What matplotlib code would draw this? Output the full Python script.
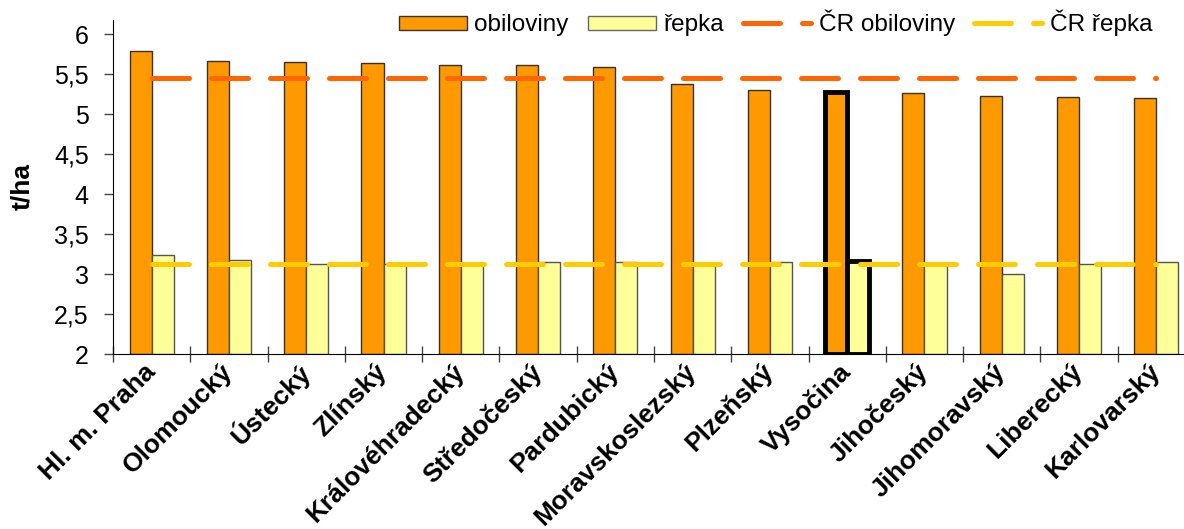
import numpy as np
import matplotlib.pyplot as plt
from matplotlib.lines import Line2D
from matplotlib.patches import Patch

plt.rcParams['font.family'] = ['Liberation Sans', 'DejaVu Sans']

kraje = ['Hl. m. Praha', 'Olomoucký', 'Ústecký', 'Zlínský', 'Královéhradecký',
         'Středočeský', 'Pardubický', 'Moravskoslezský', 'Plzeňský', 'Vysočina',
         'Jihočeský', 'Jihomoravský', 'Liberecký', 'Karlovarský']
obiloviny = [5.79, 5.66, 5.65, 5.64, 5.61, 5.61, 5.59, 5.37, 5.30, 5.28,
             5.26, 5.22, 5.21, 5.20]
repka = [3.24, 3.18, 3.13, 3.12, 3.11, 3.15, 3.15, 3.11, 3.15, 3.16,
         3.12, 3.00, 3.13, 3.15]
cr_obiloviny = 5.45
cr_repka = 3.13
zvyraznit = 'Vysočina'

yticks = [2, 2.5, 3, 3.5, 4, 4.5, 5, 5.5, 6]
ytick_labels = ['2', '2,5', '3', '3,5', '4', '4,5', '5', '5,5', '6']

c_obi = '#FF9900'
c_rep = '#FFFF99'
c_cr_obi = '#FF6600'
c_cr_rep = '#FFCC00'
pomlcky = (7.4, 4.4)

fig = plt.figure(figsize=(11.84, 5.29), dpi=100)
ax = fig.add_axes([113/1184, 1 - 354/529, 1082/1184, 334/529])

x = np.arange(len(kraje))
w = 0.285
hl = kraje.index(zvyraznit)
lw_bar = [3.5 if i == hl else 1.0 for i in x]
ec_obi = ['black' if i == hl else '#333333' for i in x]
ec_rep = ['black' if i == hl else '#555555' for i in x]

ax.bar(x - w/2, np.array(obiloviny) - 2, w, bottom=2, color=c_obi,
       edgecolor=ec_obi, linewidth=lw_bar, zorder=2)
ax.bar(x + w/2, np.array(repka) - 2, w, bottom=2, color=c_rep,
       edgecolor=ec_rep, linewidth=lw_bar, zorder=2)

ax.plot([x[0], x[-1]], [cr_obiloviny, cr_obiloviny], color=c_cr_obi, lw=3.6,
        dashes=pomlcky, dash_capstyle='round', zorder=3)
ax.plot([x[0], x[-1]], [cr_repka, cr_repka], color=c_cr_rep, lw=3.6,
        dashes=pomlcky, dash_capstyle='round', zorder=3)

ax.set_xlim(-0.5, len(kraje) - 0.5)
ax.set_ylim(2, 6.175)
ax.set_yticks(yticks)
ax.set_yticklabels(ytick_labels, fontsize=18)
ax.set_xticks(x)
ax.set_xticklabels(kraje, rotation=45, ha='right', va='center',
                   rotation_mode='anchor', fontsize=19, fontweight='bold')
ax.set_xticks(np.arange(len(kraje) + 1) - 0.5, minor=True)
ax.tick_params(axis='x', which='major', length=0, pad=10)
ax.tick_params(axis='x', which='minor', direction='inout', length=11,
               width=1, color='#444444')
ax.tick_params(axis='y', direction='out', length=6.5, width=1,
               color='#444444', pad=11)
ax.spines['top'].set_visible(False)
ax.spines['right'].set_visible(False)
ax.set_ylabel('t/ha', fontsize=19, fontweight='bold', labelpad=14)

handles = [
    Patch(facecolor=c_obi, edgecolor='#333333', label='obiloviny'),
    Patch(facecolor=c_rep, edgecolor='#666666', label='řepka'),
    Line2D([], [], color=c_cr_obi, lw=3.6, dashes=pomlcky,
           dash_capstyle='round', label='ČR obiloviny'),
    Line2D([], [], color=c_cr_rep, lw=3.6, dashes=pomlcky,
           dash_capstyle='round', label='ČR řepka'),
]
fig.legend(handles=handles, loc='center right', bbox_to_anchor=(1162/1184, 1 - 23/529),
           ncol=4, frameon=False, fontsize=17.5, handlelength=2.8,
           handleheight=0.5, handletextpad=0.3, columnspacing=0.8,
           borderaxespad=0)

fig.savefig('out.png', dpi=100)
